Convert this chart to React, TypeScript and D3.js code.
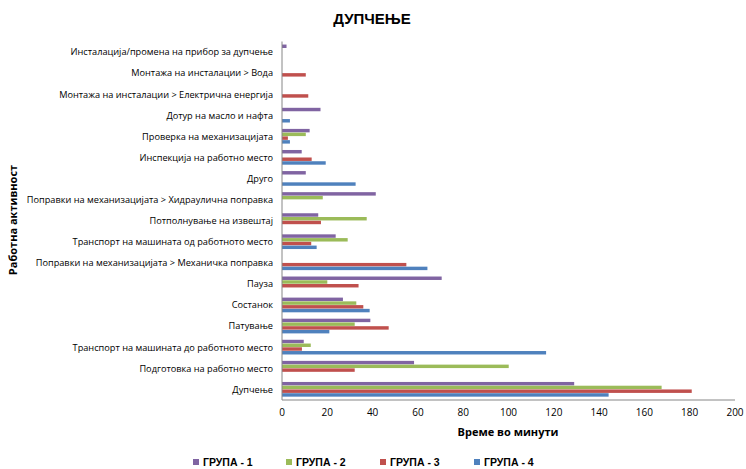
import React from "react";
import * as d3 from "d3";

const categories = [
  "Инсталација/промена на прибор за дупчење",
  "Монтажа на инсталации > Вода",
  "Монтажа на инсталации > Електрична енергија",
  "Дотур на масло и нафта",
  "Проверка на механизацијата",
  "Инспекција на работно место",
  "Друго",
  "Поправки на механизацијата > Хидраулична поправка",
  "Потполнување на извештај",
  "Транспорт на машината од работното место",
  "Поправки на механизацијата > Механичка поправка",
  "Пауза",
  "Состанок",
  "Патување",
  "Транспорт на машината до работното место",
  "Подготовка на работно место",
  "Дупчење",
];

const group1 = [2, 0, 0, 17, 12.2, 8.7, 10.5, 41.4, 16, 23.7, 0, 70.5, 26.9, 39, 9.6, 58.3, 129];
const group2 = [0, 0, 0, 0, 10.5, 0, 0, 18, 37.4, 29, 0, 20, 32.8, 32.1, 12.7, 100.1, 167.6];
const group3 = [0, 10.5, 11.6, 0, 2.6, 13.1, 0, 0, 17.2, 12.9, 54.9, 33.8, 35.9, 47.1, 8.8, 32.1, 180.9];
const group4 = [0, 0, 0, 3.5, 3.5, 19.3, 32.5, 0, 0, 15.3, 64.2, 0, 38.7, 20.9, 116.6, 0, 144.2];

const seriesNames = ["ГРУПА - 1", "ГРУПА - 2", "ГРУПА - 3", "ГРУПА - 4"];
const seriesColors = ["#8064A2", "#9BBB59", "#C0504D", "#4F81BD"];
const xTicks = [0, 20, 40, 60, 80, 100, 120, 140, 160, 180, 200];

export default function App() {
  const W = 746, H = 469;
  const left = 282, right = 735, top = 41.5, bottom = 400;
  const x = d3.scaleLinear().domain([0, 200]).range([left, right]);
  const y = d3.scaleBand<string>().domain(categories).range([top, bottom]).paddingInner(0).paddingOuter(0);
  const series = [group1, group2, group3, group4];
  const groupH = 15;
  const barH = groupH / 4;
  const labelFont = "'Open Sans', sans-serif";
  const legendX = [193, 286, 380, 474];

  return (
    <svg width={W} height={H} style={{ position: "absolute", left: 0, top: 0 }}>
      <rect width={W} height={H} fill="#fff" />
      <text x={372} y={24} textAnchor="middle" fontFamily="'Liberation Sans', Arial, sans-serif" fontWeight="bold" fontSize={15}>ДУПЧЕЊЕ</text>
      {categories.map((c, i) => {
        const cy = (y(c) as number) + y.bandwidth() / 2;
        return (
          <g key={c}>
            <text x={273} y={cy + 3.3} textAnchor="end" fontFamily={labelFont} fontSize={9.2} fill="#000">{c}</text>
            {series.map((s, k) => s[i] > 0 ? (
              <rect key={k} x={x(0)} y={cy - groupH / 2 + k * barH} width={x(s[i]) - x(0)} height={barH - 0.3} fill={seriesColors[k]} />
            ) : null)}
          </g>
        );
      })}
      <line x1={left} x2={left} y1={top} y2={bottom} stroke="#868686" />
      <line x1={left} x2={right} y1={bottom} y2={bottom} stroke="#868686" />
      {xTicks.map(t => (
        <g key={t}>
          <text x={x(t)} y={bottom + 16} textAnchor="middle" fontFamily={labelFont} fontSize={10} fill="#000">{t}</text>
        </g>
      ))}
      <text x={508} y={436} textAnchor="middle" fontFamily={labelFont} fontWeight="bold" fontSize={11}>Време во минути</text>
      <text transform={`translate(17,220) rotate(-90)`} textAnchor="middle" fontFamily={labelFont} fontWeight="bold" fontSize={11}>Работна  активност</text>
      {seriesNames.map((n, k) => (
        <g key={n}>
          <rect x={legendX[k]} y={459} width={6} height={6} fill={seriesColors[k]} />
          <text x={legendX[k] + 10} y={466} fontFamily="'Liberation Sans', Arial, sans-serif" fontWeight="bold" fontSize={10.5}>{n}</text>
        </g>
      ))}
    </svg>
  );
}
